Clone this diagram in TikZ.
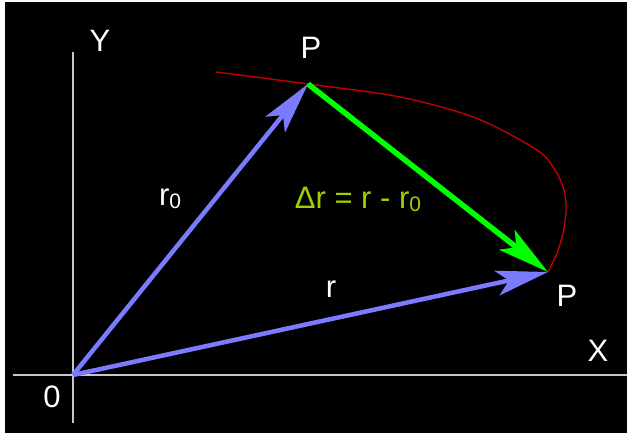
\documentclass[tikz,border=0pt]{standalone}
\usepackage{fontspec}
\setmainfont{Liberation Sans}
\usetikzlibrary{arrows.meta}
\definecolor{vblue}{HTML}{7B7BFF}
\definecolor{vgreen}{HTML}{00FF00}
\definecolor{pathred}{HTML}{C00000}
\definecolor{axisgray}{HTML}{C8C8C8}
\definecolor{deltatxt}{HTML}{A0D000}
\newcommand{\lowidx}[1]{\raisebox{-3pt}{\fontsize{21}{21}\selectfont #1}}
\tikzset{
  every node/.style={text=white, inner sep=0pt, font=\fontsize{31}{33}\selectfont},
  % one arrow style; the argument is the vector colour
  vec/.style={draw=#1, line width=4.5pt, -{Stealth[length=52pt,width=25pt,inset=12pt]}},
  axisline/.style={draw=axisgray, line width=1.5pt},
  orbit/.style={draw=pathred, line width=1.4pt},
}
\begin{document}
\begin{tikzpicture}[x=1pt,y=-1pt]
  \fill[white] (0,0) rectangle (627,435);
  \fill[black] (5,2) rectangle (627,433);
  \useasboundingbox (0,0) rectangle (627,435);

  \coordinate (O)  at (73,375);
  \coordinate (P0) at (308,84);
  \coordinate (P1) at (548,272);
  \coordinate (xl) at (13,375);
  \coordinate (xr) at (627,375);
  \coordinate (yt) at (73,52);
  \coordinate (yb) at (73,423);

  % axes
  \draw[axisline] (xl) -- (xr);
  \draw[axisline] (yb) -- (yt);

  % path of the point
  \draw[orbit] plot[smooth] coordinates {(216,72) (308,84) (400,97) (476,118) (537,150)
    (555,170) (564,190) (566,210) (563,233) (557,253) (548,272)};

  \draw[vec=vblue] (O) -- (P0);
  \draw[vec=vblue] (O) -- (P1);
  \draw[vec=vgreen, line width=5.5pt] (P0) -- (P1);

  \node (ylab)  at (100,41)  {Y};
  \node (xlab)  at (598,351) {X};
  \node (olab)  at (52,397)  {0};
  \node (ptop)  at (311,48)  {P};
  \node (pright) at (567,296) {P};
  \node (rzero) at (170,199) {r\lowidx{0}};
  \node (rlab)  at (331,289) {r};
  \node[text=deltatxt] (dr) at (358,199) {Δr = r - r\lowidx{0}};
\end{tikzpicture}
\end{document}
